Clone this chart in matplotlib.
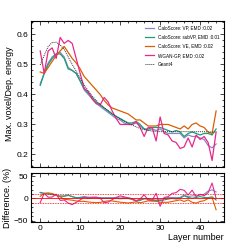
import matplotlib
matplotlib.use("Agg")
import matplotlib.pyplot as plt
import numpy as np
from matplotlib.ticker import MultipleLocator

plt.rcParams['font.family'] = ['Liberation Sans', 'DejaVu Sans']

layers = list(range(45))

geant4 = [0.498, 0.53, 0.56, 0.573, 0.574, 0.565, 0.55, 0.525, 0.5, 0.478, 0.455,
          0.432, 0.412, 0.395, 0.38, 0.367, 0.356, 0.346, 0.336, 0.327, 0.318,
          0.311, 0.304, 0.298, 0.292, 0.287, 0.283, 0.28, 0.278, 0.277, 0.276,
          0.276, 0.276, 0.276, 0.276, 0.276, 0.276, 0.276, 0.276, 0.276, 0.276,
          0.276, 0.275, 0.275, 0.275]

vp = [0.435, 0.47, 0.505, 0.525, 0.535, 0.54, 0.525, 0.49, 0.48, 0.47, 0.445,
      0.415, 0.4, 0.385, 0.37, 0.36, 0.35, 0.34, 0.33, 0.32, 0.315,
      0.305, 0.3, 0.3, 0.305, 0.295, 0.285, 0.28, 0.285, 0.28, 0.285,
      0.275, 0.27, 0.27, 0.27, 0.27, 0.255, 0.265, 0.26, 0.26, 0.255,
      0.25, 0.23, 0.222, 0.235]

subvp = [0.43, 0.47, 0.5, 0.52, 0.535, 0.535, 0.52, 0.485, 0.48, 0.47, 0.445,
         0.42, 0.405, 0.39, 0.375, 0.365, 0.355, 0.345, 0.335, 0.327, 0.32,
         0.312, 0.305, 0.305, 0.31, 0.3, 0.285, 0.285, 0.29, 0.29, 0.29,
         0.285, 0.28, 0.275, 0.28, 0.275, 0.26, 0.27, 0.275, 0.27, 0.265,
         0.27, 0.27, 0.265, 0.285]

ve = [0.475, 0.47, 0.49, 0.51, 0.53, 0.545, 0.56, 0.54, 0.52, 0.505, 0.485,
      0.46, 0.445, 0.43, 0.415, 0.4, 0.38, 0.365, 0.355, 0.35, 0.345,
      0.34, 0.335, 0.325, 0.315, 0.315, 0.305, 0.295, 0.295, 0.295, 0.3,
      0.3, 0.3, 0.295, 0.29, 0.285, 0.295, 0.285, 0.3, 0.305, 0.295,
      0.29, 0.275, 0.27, 0.345]

wgan = [0.545, 0.47, 0.545, 0.555, 0.52, 0.59, 0.57, 0.58, 0.57, 0.52, 0.47,
        0.42, 0.41, 0.385, 0.37, 0.365, 0.39, 0.375, 0.345, 0.32, 0.3,
        0.3, 0.3, 0.3, 0.31, 0.29, 0.26, 0.29, 0.29, 0.245, 0.325,
        0.27, 0.265, 0.245, 0.24, 0.22, 0.225, 0.255, 0.225, 0.265, 0.25,
        0.26, 0.24, 0.18, 0.275]

labels = ["CaloScore: VP, EMD :0.02", "CaloScore: subVP, EMD :0.01",
          "CaloScore: VE, EMD :0.02", "WGAN-GP, EMD :0.02", "Geant4"]
colors = ["#8a86cc", "#1b9e77", "#d95f02", "#e7298a", "#333333"]
models = [vp, subvp, ve, wgan]

fig = plt.figure(figsize=(2.49, 2.49), dpi=100)
ax = fig.add_axes([0.1245, 0.329, 0.7755, 0.587])
ax2 = fig.add_axes([0.1245, 0.1084, 0.7755, 0.1966])

x = np.array(layers)
g = np.array(geant4)
for m, c, l in zip(models, colors[:4], labels[:4]):
    ax.plot(x, m, color=c, lw=0.9, label=l)
ax.plot(x, g, color=colors[4], lw=0.7, ls=(0, (1, 1)), label=labels[4])

for m, c in zip(models, colors[:4]):
    ax2.plot(x, (g - np.array(m)) / g * 100, color=c, lw=0.8)
ax2.axhline(0, color='red', lw=0.6)
ax2.axhline(10, color='red', lw=0.6, ls=(0, (1, 1)))
ax2.axhline(-10, color='red', lw=0.6, ls=(0, (1, 1)))

for a in (ax, ax2):
    a.set_xlim(-2.3, 46)
    a.xaxis.set_major_locator(MultipleLocator(10))
    a.xaxis.set_minor_locator(MultipleLocator(2))
    a.tick_params(which='both', direction='in', top=True, right=True, labelsize=6,
                  width=0.5, pad=2)
    a.tick_params(which='major', length=3)
    a.tick_params(which='minor', length=1.5)
    for s in a.spines.values():
        s.set_linewidth(0.8)

ax.set_ylim(0.158, 0.645)
ax.yaxis.set_major_locator(MultipleLocator(0.1))
ax.yaxis.set_minor_locator(MultipleLocator(0.02))
ax.tick_params(labelbottom=False)
ax.set_ylabel("Max. voxel/Dep. energy", fontsize=6.5, labelpad=2)

ax2.set_ylim(-53, 57)
ax2.yaxis.set_major_locator(MultipleLocator(50))
ax2.yaxis.set_minor_locator(MultipleLocator(10))
ax2.set_ylabel("Difference. (%)", fontsize=6.5, labelpad=1)
ax2.set_xlabel("Layer number", fontsize=6.5, loc='right', labelpad=1)

ax.legend(loc='upper right', fontsize=3.3, frameon=False, handlelength=2.0,
          handletextpad=0.8, labelspacing=0.9, borderaxespad=0.6)

fig.savefig("out.png", dpi=100)
